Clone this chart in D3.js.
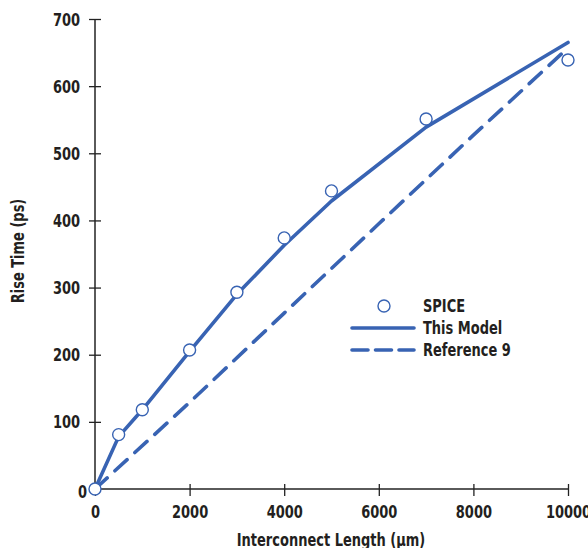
<!DOCTYPE html>
<html><head><meta charset="utf-8">
<script src="https://cdn.jsdelivr.net/npm/d3@7"></script>
<style>
body{margin:0;background:#fff;}
text{font-family:"Liberation Sans Narrow","Arial Narrow","DejaVu Sans Condensed",sans-serif;font-weight:bold;fill:#231f20;}
</style></head><body>
<svg id="c" width="588" height="548"></svg>
<script>
const xTicks = [0, 2000, 4000, 6000, 8000, 10000];
const yTicks = [0, 100, 200, 300, 400, 500, 600, 700];
const spiceX = [0, 500, 1000, 2000, 3000, 4000, 5000, 7000, 10000];
const spiceY = [0, 81, 118, 207, 293, 374, 444, 551, 639];
const modelX = [0, 500, 1000, 2000, 3000, 4000, 5000, 7000, 10000];
const modelY = [0, 78, 118, 205, 290, 363, 429, 539, 665];
const refX = [0, 2000, 4000, 6000, 8000, 10000];
const refY = [0, 129, 262, 395, 527, 657];
const legendLabels = ["SPICE", "This Model", "Reference 9"];

const SX = 0.85; // horizontal condensing of text
const blue = "#3863b3", axisCol = "#5a5a5a";
const svg = d3.select("#c");
const x = d3.scaleLinear().domain([0, 10000]).range([95, 568]);
const y = d3.scaleLinear().domain([0, 700]).range([489, 19]);

// axes
const gx = svg.append("g").attr("transform", "translate(0,489)")
  .call(d3.axisBottom(x).tickValues(xTicks).tickSize(6).tickFormat(d3.format("d")));
const gy = svg.append("g").attr("transform", "translate(95,0)")
  .call(d3.axisLeft(y).tickValues(yTicks).tickSize(6).tickFormat(d3.format("d")));
[gx, gy].forEach(g => {
  g.select(".domain").attr("stroke", axisCol).attr("stroke-width", 2);
  g.selectAll(".tick line").attr("stroke", "#222").attr("stroke-width", 1.3);
  g.selectAll(".tick text").style("font-size", "17px").attr("fill", "#231f20")
    .attr("transform", `scale(${SX},1)`);
});
gx.select(".domain").attr("d", "M" + x.range()[0] + ",0H" + x.range()[1]);
gy.select(".domain").attr("d", "M0," + y.range()[0] + "V" + y.range()[1]);
// ticks crossing the axis
gx.selectAll(".tick line").attr("y1", -5).attr("y2", 7);
gy.selectAll(".tick line").attr("x1", 6).attr("x2", -6);
gy.selectAll(".tick text").attr("x", -15 / SX).attr("dy", "0.36em");
gy.selectAll(".tick").filter(d => d === 0).select("text").attr("x", -8 / SX).attr("y", 2);
gy.selectAll(".tick").filter(d => d === 0).select("line").remove();
gx.selectAll(".tick text").attr("dy", "0").attr("y", 29);

// lines
const line = d3.line().x(d => x(d[0])).y(d => y(d[1]));
svg.append("path").datum(refX.map((v, i) => [v, refY[i]]))
  .attr("d", line).attr("fill", "none").attr("stroke", blue).attr("stroke-width", 3.6)
  .attr("stroke-linecap", "round").attr("stroke-dasharray", "16.5,10.5");
svg.append("path").datum(modelX.map((v, i) => [v, modelY[i]]))
  .attr("d", line).attr("fill", "none").attr("stroke", blue).attr("stroke-width", 3.6)
  .attr("stroke-linecap", "round").attr("stroke-linejoin", "round");
svg.append("g").selectAll("circle").data(spiceX.map((v, i) => [v, spiceY[i]]))
  .join("circle").attr("cx", d => x(d[0])).attr("cy", d => y(d[1])).attr("r", 6)
  .attr("fill", "#fff").attr("stroke", blue).attr("stroke-width", 1.4);

// axis titles
svg.append("text").attr("transform", `translate(331,546) scale(${SX},1)`).attr("text-anchor", "middle")
  .style("font-size", "17px").text("Interconnect Length (\u03bcm)");
svg.append("text").attr("transform", `translate(24,251) rotate(-90) scale(${SX},1)`).attr("text-anchor", "middle")
  .style("font-size", "17px").text("Rise Time (ps)");

// legend
const lg = svg.append("g");
lg.append("circle").attr("cx", 384).attr("cy", 306).attr("r", 6)
  .attr("fill", "#fff").attr("stroke", blue).attr("stroke-width", 1.4);
lg.append("line").attr("x1", 352).attr("x2", 414).attr("y1", 328).attr("y2", 328)
  .attr("stroke", blue).attr("stroke-width", 3.6).attr("stroke-linecap", "round");
lg.append("line").attr("x1", 352).attr("x2", 414).attr("y1", 350).attr("y2", 350)
  .attr("stroke", blue).attr("stroke-width", 3.6).attr("stroke-linecap", "round")
  .attr("stroke-dasharray", "16,7.5");
legendLabels.forEach((t, i) => {
  lg.append("text").attr("transform", `translate(423,${312 + i * 22}) scale(${SX},1)`)
    .style("font-size", "17px").text(t);
});
</script></body></html>
